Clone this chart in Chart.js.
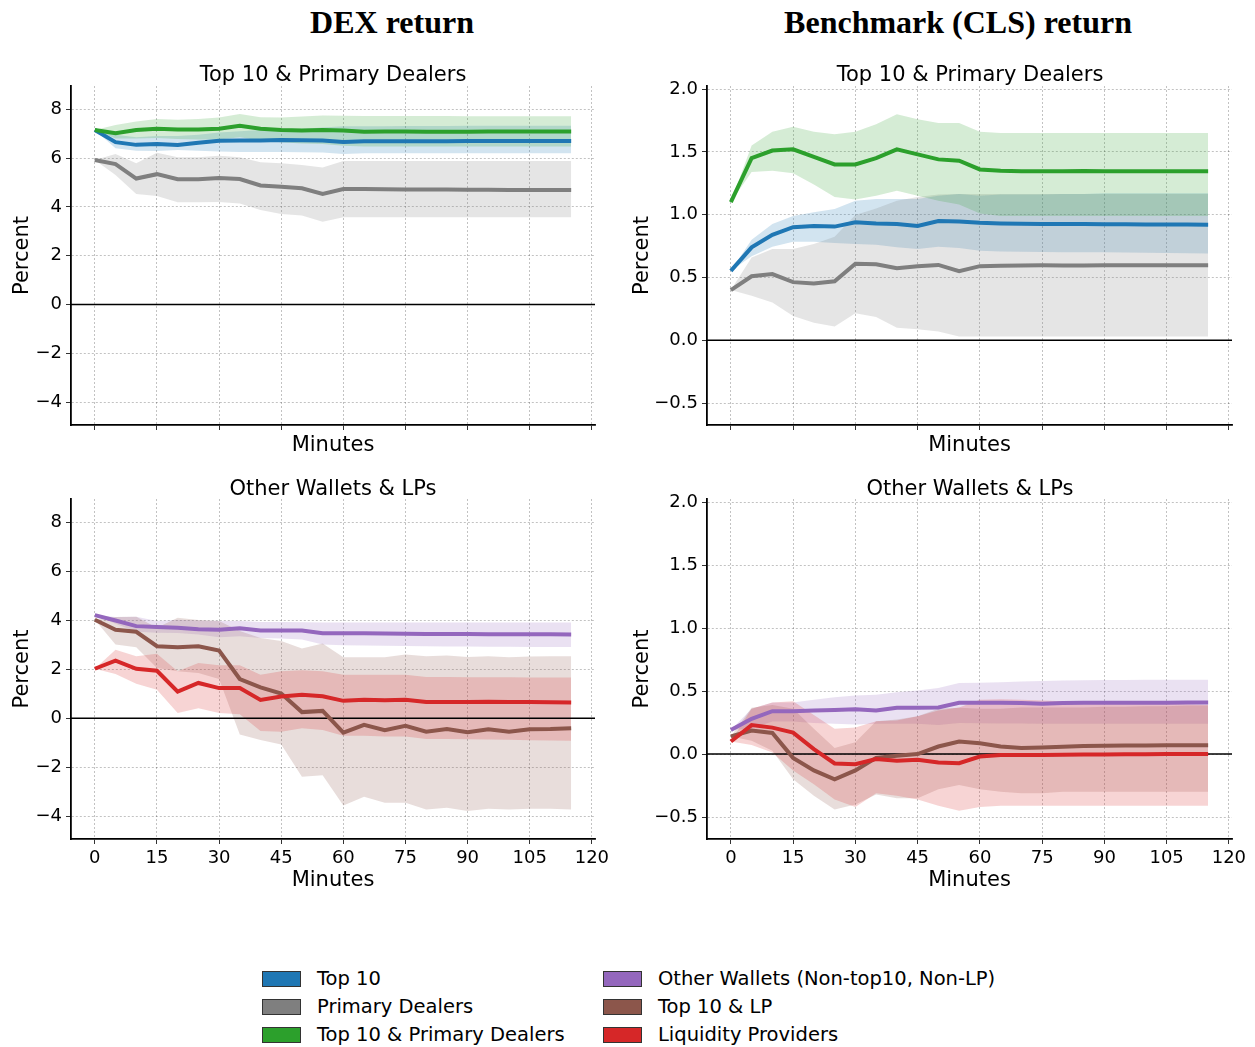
<!DOCTYPE html>
<html>
<head>
<meta charset="utf-8">
<script src="https://cdn.jsdelivr.net/npm/chart.js@4.4.1/dist/chart.umd.min.js"></script>
<style>
  body { margin: 0; background: #fff; width: 1255px; height: 1047px; position: relative; overflow: hidden; font-family: "DejaVu Sans", sans-serif; }
  canvas { position: absolute; }
  .col-title { position: absolute; top: 4px; font-family: "Liberation Serif", serif; font-weight: bold; font-size: 32px; transform: translateX(-50%); white-space: nowrap; }
  .ptitle { position: absolute; font-size: 21px; transform: translate(-50%, -50%); white-space: nowrap; z-index: 2; }
  .leg { position: absolute; font-size: 19.5px; display: flex; align-items: center; white-space: nowrap; }
  .leg span.sw { display: inline-block; width: 37px; height: 14px; border: 1px solid #333; margin-right: 16px; }
</style>
</head>
<body>
<div class="col-title" style="left:392px">DEX return</div>
<div class="col-title" style="left:958px">Benchmark (CLS) return</div>
<div class="ptitle" style="left:333px; top:74px">Top 10 &amp; Primary Dealers</div>
<div class="ptitle" style="left:970px; top:74px">Top 10 &amp; Primary Dealers</div>
<div class="ptitle" style="left:333px; top:488px">Other Wallets &amp; LPs</div>
<div class="ptitle" style="left:970px; top:488px">Other Wallets &amp; LPs</div>

<canvas id="dexTop" width="611" height="382" style="left:4px; top:76px"></canvas>
<canvas id="clsTop" width="628" height="382" style="left:624px; top:76px"></canvas>
<canvas id="dexBot" width="611" height="404" style="left:4px; top:489px"></canvas>
<canvas id="clsBot" width="628" height="404" style="left:624px; top:489px"></canvas>

<div id="legend"></div>

<script>
// minutes after the event
const minutes = [0, 5, 10, 15, 20, 25, 30, 35, 40, 45, 50, 55, 60, 65, 70, 75, 80, 85, 90, 95, 100, 105, 110, 115];
const xTicks = [0, 15, 30, 45, 60, 75, 90, 105, 120];
const dexTicks = [-4, -2, 0, 2, 4, 6, 8];
const clsTicks = [-0.5, 0, 0.5, 1.0, 1.5, 2.0];

// DEX return, top panel
const dexTop10   = [7.15, 6.65, 6.54, 6.58, 6.53, 6.63, 6.71, 6.72, 6.72, 6.74, 6.73, 6.72, 6.66, 6.69, 6.69, 6.69, 6.69, 6.69, 6.70, 6.70, 6.70, 6.70, 6.70, 6.70];
const dexTop10Hi = [7.15, 6.95, 6.85, 6.90, 6.90, 6.95, 7.05, 7.10, 7.15, 7.20, 7.20, 7.25, 7.30, 7.30, 7.30, 7.31, 7.31, 7.31, 7.32, 7.32, 7.32, 7.32, 7.32, 7.32];
const dexTop10Lo = [7.15, 6.40, 6.30, 6.29, 6.33, 6.30, 6.27, 6.25, 6.25, 6.25, 6.24, 6.23, 6.17, 6.20, 6.20, 6.20, 6.20, 6.20, 6.20, 6.20, 6.20, 6.20, 6.20, 6.20];
const dexPD      = [5.92, 5.75, 5.16, 5.34, 5.13, 5.13, 5.18, 5.14, 4.88, 4.82, 4.76, 4.53, 4.73, 4.73, 4.72, 4.71, 4.71, 4.71, 4.70, 4.70, 4.69, 4.69, 4.69, 4.69];
const dexPDHi    = [5.92, 6.17, 5.79, 6.22, 6.03, 6.03, 6.09, 6.03, 5.83, 5.79, 5.72, 5.61, 5.88, 5.88, 5.88, 5.88, 5.88, 5.88, 5.88, 5.88, 5.88, 5.88, 5.88, 5.88];
const dexPDLo    = [5.92, 5.31, 4.53, 4.45, 4.19, 4.19, 4.20, 4.14, 3.87, 3.71, 3.65, 3.39, 3.58, 3.58, 3.58, 3.58, 3.58, 3.58, 3.58, 3.58, 3.58, 3.58, 3.58, 3.58];
const dexTPD     = [7.15, 7.02, 7.15, 7.20, 7.17, 7.17, 7.20, 7.32, 7.20, 7.15, 7.13, 7.15, 7.13, 7.08, 7.09, 7.09, 7.08, 7.08, 7.08, 7.09, 7.09, 7.09, 7.09, 7.09];
const dexTPDHi   = [7.15, 7.35, 7.50, 7.60, 7.57, 7.60, 7.66, 7.80, 7.67, 7.66, 7.70, 7.74, 7.73, 7.72, 7.72, 7.72, 7.72, 7.72, 7.71, 7.71, 7.71, 7.71, 7.71, 7.71];
const dexTPDLo   = [7.15, 6.80, 6.80, 6.82, 6.78, 6.76, 6.76, 6.85, 6.72, 6.65, 6.60, 6.58, 6.50, 6.47, 6.47, 6.47, 6.47, 6.47, 6.47, 6.47, 6.47, 6.47, 6.47, 6.47];

// CLS return, top panel
const clsTop10   = [0.553, 0.74, 0.84, 0.90, 0.91, 0.905, 0.94, 0.93, 0.925, 0.91, 0.95, 0.945, 0.935, 0.93, 0.928, 0.925, 0.925, 0.925, 0.924, 0.923, 0.922, 0.922, 0.921, 0.92];
const clsTop10Hi = [0.553, 0.80, 0.925, 0.99, 1.02, 1.045, 1.11, 1.125, 1.125, 1.125, 1.15, 1.165, 1.15, 1.16, 1.16, 1.16, 1.165, 1.165, 1.17, 1.17, 1.17, 1.17, 1.17, 1.17];
const clsTop10Lo = [0.553, 0.67, 0.745, 0.785, 0.785, 0.775, 0.766, 0.76, 0.74, 0.726, 0.745, 0.734, 0.713, 0.707, 0.705, 0.703, 0.70, 0.70, 0.70, 0.698, 0.696, 0.694, 0.692, 0.69];
const clsPD      = [0.40, 0.51, 0.527, 0.463, 0.452, 0.47, 0.61, 0.606, 0.574, 0.59, 0.60, 0.55, 0.59, 0.594, 0.596, 0.597, 0.595, 0.596, 0.597, 0.597, 0.597, 0.597, 0.597, 0.597];
const clsPDHi    = [0.40, 0.66, 0.726, 0.726, 0.766, 0.824, 0.997, 1.05, 1.11, 1.14, 1.16, 1.165, 1.165, 1.165, 1.165, 1.165, 1.165, 1.165, 1.165, 1.165, 1.165, 1.165, 1.165, 1.165];
const clsPDLo    = [0.40, 0.354, 0.30, 0.194, 0.14, 0.11, 0.215, 0.186, 0.10, 0.088, 0.07, 0.03, 0.03, 0.03, 0.03, 0.03, 0.03, 0.03, 0.03, 0.03, 0.03, 0.03, 0.03, 0.03];
const clsTPD     = [1.10, 1.45, 1.51, 1.52, 1.46, 1.40, 1.40, 1.45, 1.52, 1.48, 1.44, 1.43, 1.36, 1.35, 1.345, 1.345, 1.345, 1.347, 1.345, 1.345, 1.345, 1.345, 1.346, 1.346];
const clsTPDHi   = [1.10, 1.55, 1.66, 1.70, 1.66, 1.64, 1.66, 1.72, 1.80, 1.76, 1.73, 1.73, 1.66, 1.65, 1.65, 1.65, 1.65, 1.65, 1.65, 1.65, 1.65, 1.65, 1.65, 1.65];
const clsTPDLo   = [1.10, 1.34, 1.35, 1.33, 1.24, 1.14, 1.12, 1.15, 1.19, 1.15, 1.11, 1.08, 1.01, 0.99, 0.99, 0.99, 0.99, 0.99, 0.99, 0.99, 0.99, 0.99, 0.99, 0.99];

// DEX return, bottom panel
const dexOther     = [4.21, 3.99, 3.76, 3.72, 3.69, 3.63, 3.61, 3.67, 3.58, 3.58, 3.58, 3.47, 3.47, 3.47, 3.46, 3.45, 3.44, 3.44, 3.44, 3.43, 3.43, 3.43, 3.43, 3.42];
const dexOtherHi   = [4.21, 4.13, 4.14, 3.97, 4.02, 3.99, 3.97, 3.97, 3.93, 3.93, 3.92, 3.91, 3.91, 3.91, 3.91, 3.91, 3.91, 3.91, 3.91, 3.91, 3.91, 3.91, 3.91, 3.91];
const dexOtherLo   = [4.21, 3.86, 3.53, 3.49, 3.48, 3.42, 3.31, 3.35, 3.28, 3.26, 3.21, 3.01, 2.98, 2.97, 2.96, 2.95, 2.94, 2.93, 2.93, 2.92, 2.92, 2.91, 2.91, 2.91];
const dexT10LP     = [4.02, 3.61, 3.53, 2.94, 2.90, 2.94, 2.76, 1.60, 1.26, 1.01, 0.25, 0.30, -0.59, -0.27, -0.49, -0.31, -0.55, -0.44, -0.57, -0.45, -0.55, -0.45, -0.44, -0.41];
const dexT10LPHi   = [4.02, 4.13, 4.14, 3.69, 4.10, 4.01, 3.97, 3.56, 3.28, 3.15, 2.85, 3.05, 2.49, 2.49, 2.49, 2.60, 2.53, 2.56, 2.50, 2.53, 2.49, 2.52, 2.53, 2.53];
const dexT10LPLo   = [4.02, 3.01, 2.90, 2.05, 1.92, 1.85, 1.60, -0.66, -0.89, -1.07, -2.39, -2.33, -3.56, -3.21, -3.45, -3.45, -3.73, -3.65, -3.79, -3.69, -3.73, -3.70, -3.70, -3.73];
const dexLP        = [2.02, 2.35, 2.02, 1.94, 1.09, 1.44, 1.23, 1.23, 0.75, 0.89, 0.96, 0.90, 0.71, 0.75, 0.73, 0.75, 0.66, 0.66, 0.66, 0.67, 0.66, 0.66, 0.65, 0.64];
const dexLPHi      = [2.02, 2.80, 2.53, 2.63, 1.92, 2.26, 2.16, 2.16, 1.78, 1.92, 1.96, 1.92, 1.78, 1.78, 1.78, 1.78, 1.68, 1.68, 1.67, 1.67, 1.67, 1.66, 1.66, 1.66];
const dexLPLo      = [2.02, 1.81, 1.41, 1.16, 0.21, 0.41, 0.21, 0.16, -0.52, -0.55, -0.41, -0.48, -0.71, -0.71, -0.75, -0.75, -0.85, -0.85, -0.86, -0.87, -0.88, -0.90, -0.91, -0.92];

// CLS return, bottom panel
const clsOther     = [0.19, 0.28, 0.34, 0.34, 0.345, 0.35, 0.356, 0.345, 0.367, 0.367, 0.37, 0.407, 0.407, 0.407, 0.405, 0.40, 0.405, 0.407, 0.407, 0.407, 0.407, 0.407, 0.41, 0.41];
const clsOtherHi   = [0.19, 0.36, 0.41, 0.41, 0.43, 0.45, 0.465, 0.47, 0.49, 0.505, 0.524, 0.564, 0.566, 0.57, 0.575, 0.58, 0.583, 0.585, 0.587, 0.588, 0.589, 0.59, 0.59, 0.59];
const clsOtherLo   = [0.19, 0.205, 0.258, 0.258, 0.247, 0.24, 0.234, 0.24, 0.24, 0.24, 0.231, 0.247, 0.245, 0.243, 0.242, 0.241, 0.24, 0.24, 0.24, 0.24, 0.24, 0.24, 0.24, 0.24];
const clsT10LP     = [0.14, 0.186, 0.168, -0.03, -0.13, -0.20, -0.13, -0.03, -0.013, 0.0, 0.06, 0.10, 0.085, 0.06, 0.048, 0.053, 0.058, 0.064, 0.066, 0.067, 0.068, 0.069, 0.069, 0.069];
const clsT10LPHi   = [0.14, 0.367, 0.39, 0.36, 0.20, 0.048, 0.093, 0.26, 0.274, 0.30, 0.36, 0.367, 0.36, 0.36, 0.37, 0.37, 0.37, 0.37, 0.375, 0.375, 0.38, 0.38, 0.385, 0.385];
const clsT10LPLo   = [0.14, 0.106, 0.027, -0.20, -0.33, -0.44, -0.40, -0.32, -0.35, -0.35, -0.28, -0.245, -0.28, -0.30, -0.31, -0.31, -0.30, -0.30, -0.30, -0.30, -0.30, -0.30, -0.30, -0.30];
const clsLP        = [0.10, 0.23, 0.21, 0.17, 0.04, -0.075, -0.08, -0.04, -0.053, -0.045, -0.066, -0.072, -0.02, -0.008, -0.008, -0.007, -0.005, -0.004, -0.003, -0.002, -0.001, 0.0, 0.0, 0.0];
const clsLPHi      = [0.10, 0.36, 0.41, 0.42, 0.31, 0.20, 0.21, 0.26, 0.266, 0.30, 0.346, 0.37, 0.43, 0.434, 0.43, 0.425, 0.42, 0.415, 0.41, 0.405, 0.40, 0.40, 0.395, 0.39];
const clsLPLo      = [0.10, 0.072, 0.013, -0.13, -0.24, -0.36, -0.42, -0.31, -0.33, -0.36, -0.41, -0.45, -0.42, -0.41, -0.41, -0.41, -0.41, -0.41, -0.41, -0.41, -0.41, -0.41, -0.41, -0.41];

const groups = ['Top 10', 'Primary Dealers', 'Top 10 & Primary Dealers', 'Other Wallets (Non-top10, Non-LP)', 'Top 10 & LP', 'Liquidity Providers'];
const colors = ['#1f77b4', '#7f7f7f', '#2ca02c', '#9467bd', '#8c564b', '#d62728'];

Chart.defaults.font.family = '"DejaVu Sans", sans-serif';
Chart.defaults.color = '#000';

const fade = (hex, a) => {
  const n = parseInt(hex.slice(1), 16);
  return `rgba(${n >> 16}, ${(n >> 8) & 255}, ${n & 255}, ${a})`;
};
const pts = arr => arr.map((v, i) => ({ x: minutes[i], y: v }));
const minus = s => String(s).replace('-', '\u2212');

function panel(id, series, yMin, yMax, yTicks, yFmt, yW, xH, showX) {
  const datasets = [];
  // confidence bands first, later series over earlier ones
  series.forEach((s, k) => {
    datasets.push({ data: pts(s.hi), borderWidth: 0, pointRadius: 0, fill: '+1', backgroundColor: fade(colors[s.c], 0.2), order: 50 - k });
    datasets.push({ data: pts(s.lo), borderWidth: 0, pointRadius: 0, fill: false, order: 50 - k });
  });
  datasets.push({ data: [{ x: -5.75, y: 0 }, { x: 120.75, y: 0 }], borderColor: '#000', borderWidth: 1.5, pointRadius: 0, fill: false, order: 20 });
  series.forEach((s, k) => {
    datasets.push({ label: groups[s.c], data: pts(s.mean), borderColor: colors[s.c], borderWidth: 4, pointRadius: 0, fill: false, tension: 0, order: 10 - k });
  });

  new Chart(document.getElementById(id), {
    type: 'line',
    data: { datasets },
    options: {
      responsive: false,
      animation: false,
      events: [],
      layout: { padding: { top: 10, right: 20, bottom: 0, left: 0 } },
      plugins: { legend: { display: false }, tooltip: { enabled: false }, filler: { drawTime: 'beforeDatasetsDraw' } },
      scales: {
        x: {
          type: 'linear',
          min: -5.75,
          max: 120.75,
          afterBuildTicks: s => { s.ticks = xTicks.map(v => ({ value: v })); },
          afterFit: s => { s.height = xH; s.paddingLeft = 0; s.paddingRight = 0; },
          ticks: { autoSkip: false, maxRotation: 0, padding: 4, font: { size: 18 }, callback: v => showX ? String(v) : '' },
          grid: { color: 'rgba(0,0,0,0.3)', lineWidth: 0.8, tickLength: 5, tickColor: '#333', tickWidth: 1 },
          border: { display: true, color: '#000', width: 1.8, dash: [2, 2] },
          title: { display: true, text: 'Minutes', font: { size: 21 }, padding: 0 }
        },
        y: {
          min: yMin,
          max: yMax,
          afterBuildTicks: s => { s.ticks = yTicks.map(v => ({ value: v })); },
          afterFit: s => { s.width = yW; s.paddingTop = 0; s.paddingBottom = 0; },
          ticks: { padding: 4, font: { size: 18 }, callback: v => minus(yFmt(v)) },
          grid: { color: 'rgba(0,0,0,0.3)', lineWidth: 0.8, tickLength: 5, tickColor: '#333', tickWidth: 1 },
          border: { display: true, color: '#000', width: 1.8, dash: [2, 2] },
          title: { display: true, text: 'Percent', font: { size: 21 }, padding: { top: 6, bottom: 0 } }
        }
      }
    }
  });
}

const intFmt = v => v.toFixed(0);
const decFmt = v => v.toFixed(1);

panel('dexTop', [
  { mean: dexTop10, hi: dexTop10Hi, lo: dexTop10Lo, c: 0 },
  { mean: dexPD, hi: dexPDHi, lo: dexPDLo, c: 1 },
  { mean: dexTPD, hi: dexTPDHi, lo: dexTPDLo, c: 2 }
], -4.93, 8.95, dexTicks, intFmt, 67, 33, false);

panel('clsTop', [
  { mean: clsTop10, hi: clsTop10Hi, lo: clsTop10Lo, c: 0 },
  { mean: clsPD, hi: clsPDHi, lo: clsPDLo, c: 1 },
  { mean: clsTPD, hi: clsTPDHi, lo: clsTPDLo, c: 2 }
], -0.674, 2.024, clsTicks, decFmt, 83, 33, false);

panel('dexBot', [
  { mean: dexOther, hi: dexOtherHi, lo: dexOtherLo, c: 3 },
  { mean: dexT10LP, hi: dexT10LPHi, lo: dexT10LPLo, c: 4 },
  { mean: dexLP, hi: dexLPHi, lo: dexLPLo, c: 5 }
], -4.93, 8.95, dexTicks, intFmt, 67, 54, true);

panel('clsBot', [
  { mean: clsOther, hi: clsOtherHi, lo: clsOtherLo, c: 3 },
  { mean: clsT10LP, hi: clsT10LPHi, lo: clsT10LPLo, c: 4 },
  { mean: clsLP, hi: clsLPHi, lo: clsLPLo, c: 5 }
], -0.674, 2.024, clsTicks, decFmt, 83, 54, true);

// legend: two columns of three
const legend = document.getElementById('legend');
groups.forEach((g, i) => {
  const d = document.createElement('div');
  d.className = 'leg';
  d.style.left = (i < 3 ? 262 : 603) + 'px';
  d.style.top = (967 + (i % 3) * 28) + 'px';
  d.innerHTML = `<span class="sw" style="background:${colors[i]}"></span>${g}`;
  legend.appendChild(d);
});
</script>
</body>
</html>
